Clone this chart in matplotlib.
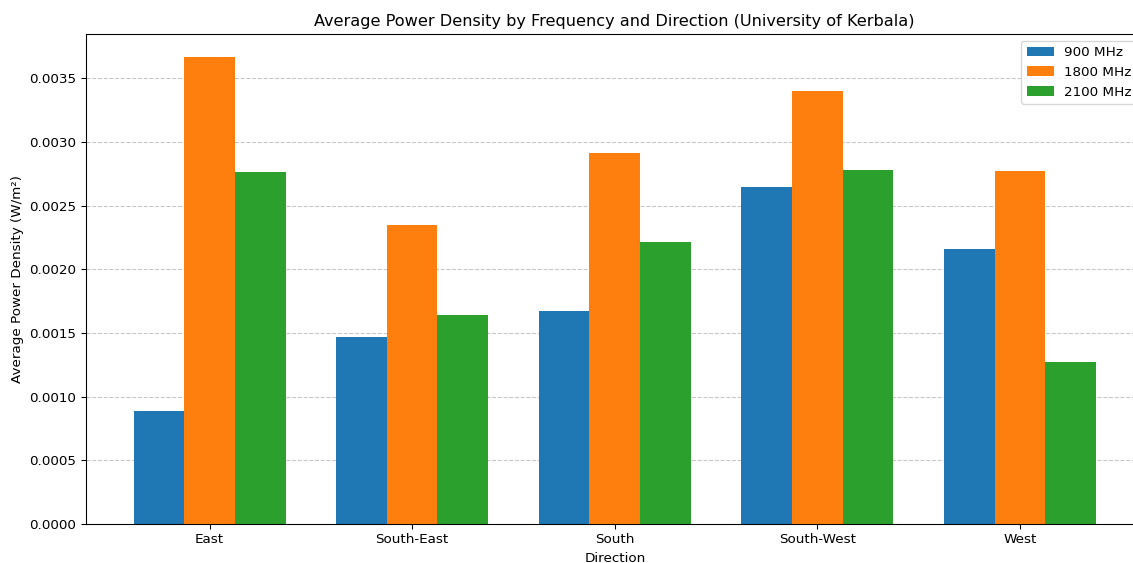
import numpy as np
import matplotlib.pyplot as plt

# data
directions = ['East', 'South-East', 'South', 'South-West', 'West']
freqs = ['900 MHz', '1800 MHz', '2100 MHz']
pd_900 = [0.000887, 0.001468, 0.001672, 0.002645, 0.002159]
pd_1800 = [0.003666, 0.002347, 0.002912, 0.003399, 0.002771]
pd_2100 = [0.002763, 0.001640, 0.002214, 0.002779, 0.001272]

DPI = 97
fig = plt.figure(figsize=(1133 / DPI, 563 / DPI), dpi=DPI)
# axes run past the right edge, as in the reference
ax = fig.add_axes([85.5 / 1133, 39 / 563, 1058.5 / 1133, 490 / 563])

x = np.arange(len(directions))
w = 0.25
for i, (vals, lab) in enumerate(zip([pd_900, pd_1800, pd_2100], freqs)):
    ax.bar(x + (i - 1) * w, vals, w, label=lab, zorder=2)

ax.set_xticks(x)
ax.set_xticklabels(directions)
ax.set_xlabel('Direction')
ax.set_ylabel('Average Power Density (W/m²)')
ax.set_title('Average Power Density by Frequency and Direction (University of Kerbala)')
ax.yaxis.grid(True, linestyle='--', alpha=0.7, zorder=0)
ax.set_axisbelow(True)
ax.legend(loc='upper right')

fig.savefig('out.png', dpi=DPI)
